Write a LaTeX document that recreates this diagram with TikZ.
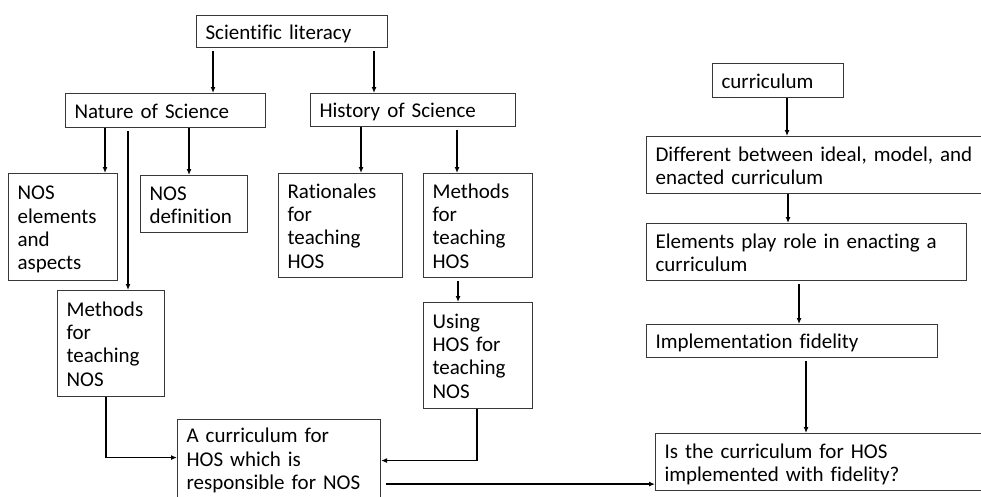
\documentclass[tikz,border=0pt]{standalone}
\usepackage{fontspec}
\setmainfont{Carlito}[Ligatures=NoCommon]
\usetikzlibrary{arrows.meta}
\newcommand\ts{\rule{0pt}{19.3pt}}
\newcommand\bs{\rule[-4pt]{0pt}{4pt}}
\begin{document}
\begin{tikzpicture}[x=1pt,y=-1pt,
  box/.style={draw=black!78, line width=1.1pt, anchor=north west, align=left,
    inner xsep=9pt, inner ysep=0pt, font=\fontsize{21}{23.3}\selectfont},
  arr/.style={draw=black, line width=1.3pt, -{Latex[length=6pt,width=5pt]}}]
\useasboundingbox (0,0) rectangle (981,496);
\clip (0,0) rectangle (981,496);
\fill[white] (0,0) rectangle (981,496);

\node[box, minimum width=191pt, minimum height=32pt, text width=173pt] (sci) at (196,15) {\ts Scientific literacy\bs};
\node[box, minimum width=200pt, minimum height=34pt, text width=182pt] (nat) at (65,93) {\ts Nature of Science\bs};
\node[box, minimum width=205pt, minimum height=33pt, text width=187pt] (hist) at (310,93) {\ts History of Science\bs};
\node[box, minimum width=109pt, minimum height=107pt, text width=91pt] (elem) at (8,173) {\ts NOS\\elements\\and\\aspects\bs};
\node[box, minimum width=107pt, minimum height=57pt, text width=89pt] (def) at (140,175) {\ts NOS\\definition\bs};
\node[box, minimum width=124pt, minimum height=104pt, text width=106pt] (rat) at (278,173) {\ts Rationales\\for\\teaching\\HOS\bs};
\node[box, minimum width=109pt, minimum height=104pt, text width=91pt] (mhos) at (423,173) {\ts Methods\\for\\teaching\\HOS\bs};
\node[box, minimum width=107pt, minimum height=106pt, text width=89pt] (methN) at (57,290) {\ts Methods\\for\\teaching\\NOS\bs};
\node[box, minimum width=109pt, minimum height=106pt, text width=91pt] (using) at (423,302) {\ts Using\\HOS for\\teaching\\NOS\bs};
\node[box, minimum width=203pt, minimum height=78pt, text width=185pt] (acur) at (177,419) {\ts A curriculum for\\HOS which is\\responsible for NOS\bs};
\node[box, minimum width=131pt, minimum height=34pt, text width=113pt] (cur) at (712,63) {\ts curriculum\bs};
\node[box, minimum width=345pt, minimum height=57pt, text width=327pt] (diff) at (646,136) {\ts Different between ideal, model, and\\enacted curriculum\bs};
\node[box, minimum width=320pt, minimum height=57pt, text width=302pt] (elem2) at (646,223) {\ts Elements play role in enacting a\\curriculum\bs};
\node[box, minimum width=291pt, minimum height=33pt, text width=273pt] (impl) at (646,324) {\ts Implementation fidelity\bs};
\node[box, minimum width=335pt, minimum height=57pt, text width=317pt] (isb) at (655,433) {\ts Is the curriculum for HOS\\implemented with fidelity?\bs};

% arrows
\draw[arr] ([xshift=17pt,yshift=-3pt]sci.south west) -- ([xshift=148pt]nat.north west);
\draw[arr] ([xshift=178pt,yshift=-3pt]sci.south west) -- ([xshift=64pt]hist.north west);
\draw[arr] ([xshift=40pt]nat.south west) -- ([xshift=97pt]elem.north west);
\draw[arr] ([xshift=63pt,yshift=-3pt]nat.south west) -- ([xshift=71pt]methN.north west);
\draw[arr] ([xshift=124pt]nat.south west) -- ([xshift=49pt]def.north west);
\draw[arr] ([xshift=51pt]hist.south west) -- ([xshift=83pt]rat.north west);
\draw[arr] ([xshift=147pt,yshift=-3pt]hist.south west) -- ([xshift=34pt]mhos.north west);
\draw[arr] ([xshift=35pt,yshift=-3pt]mhos.south west) -- ([xshift=35pt]using.north west);
\draw[arr] ([xshift=49pt]methN.south west) |- ([yshift=1pt]acur.west);
\draw[arr] ([xshift=54pt]using.south west) |- ([yshift=-2pt]acur.east);
\draw[arr] ([xshift=5pt,yshift=14pt]acur.south east) coordinate (t) -- (t -| isb.west);
\draw[arr] ([xshift=75pt]cur.south west) -- ([xshift=141pt]diff.north west);
\draw[arr] ([xshift=142pt]diff.south west) -- ([xshift=142pt]elem2.north west);
\draw[arr] ([xshift=153pt,yshift=-3pt]elem2.south west) -- ([xshift=153pt]impl.north west);
\draw[arr] ([xshift=160pt,yshift=-3pt]impl.south west) -- ([xshift=151pt]isb.north west);
\end{tikzpicture}
\end{document}
